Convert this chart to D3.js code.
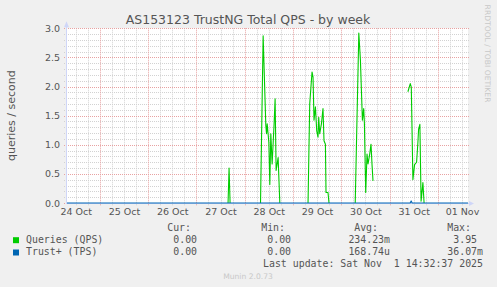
<!DOCTYPE html>
<html>
<head>
<meta charset="utf-8">
<script src="https://cdn.jsdelivr.net/npm/d3@7"></script>
<style>
  html, body { margin: 0; padding: 0; background: #f0f0f0; }
  #chart { width: 497px; height: 287px; }
  svg { display: block; }
  text { white-space: pre; }
  .title  { font: 12.5px "DejaVu Sans"; fill: #555; }
  .unit   { font: 11px "DejaVu Sans"; fill: #555; }
  .tick   { font: 9.5px "DejaVu Sans"; fill: #555; }
  .legend { font: 9.9px "DejaVu Sans Mono"; fill: #555; }
  .mark   { font: 7.6px "DejaVu Sans"; fill: #c8c8c8; }
</style>
</head>
<body>
<div id="chart"></div>
<script>
/*
** Data
*/
var periodStart = "2025-10-24 07:27"
  , periodEnd   = "2025-11-01 14:45"
;
// null = unknown sample, the line breaks there
var qpsTimes = [
      "2025-10-27 15:30", "2025-10-27 16:00", "2025-10-27 16:30", "2025-10-27 17:00"
    , "2025-10-28 07:38", "2025-10-28 08:56", "2025-10-28 10:16", "2025-10-28 10:37"
    , "2025-10-28 10:57", "2025-10-28 11:46", "2025-10-28 12:15", "2025-10-28 12:45"
    , "2025-10-28 13:24", "2025-10-28 14:23", "2025-10-28 14:53", "2025-10-28 15:23"
    , "2025-10-28 16:23", "2025-10-28 17:13", "2025-10-28 17:40"
    , "2025-10-29 07:15", "2025-10-29 08:05", "2025-10-29 09:14", "2025-10-29 09:44"
    , "2025-10-29 10:13", "2025-10-29 10:55", "2025-10-29 11:34", "2025-10-29 12:12"
    , "2025-10-29 12:33", "2025-10-29 13:03", "2025-10-29 13:54", "2025-10-29 14:41"
    , "2025-10-29 15:11", "2025-10-29 15:53", "2025-10-29 16:11", "2025-10-29 17:10"
    , "2025-10-29 17:40", "2025-10-29 18:10"
    , "2025-10-30 06:42", "2025-10-30 08:29", "2025-10-30 09:17", "2025-10-30 10:16"
    , "2025-10-30 10:55", "2025-10-30 11:16", "2025-10-30 11:55", "2025-10-30 12:34"
    , "2025-10-30 13:04", "2025-10-30 13:54", "2025-10-30 14:33", "2025-10-30 15:02"
    , "2025-10-30 15:32", "2025-10-30 16:00"
    , "2025-10-31 08:53", "2025-10-31 10:04", "2025-10-31 10:34", "2025-10-31 11:22"
    , "2025-10-31 12:12", "2025-10-31 13:12", "2025-10-31 13:51", "2025-10-31 14:12"
    , "2025-10-31 14:50", "2025-10-31 15:26", "2025-10-31 16:20", "2025-10-31 16:55"
  ]
  , qpsValues = [
      0, 0.60, 0, null
    , 0, 2.87, 1.33, 1.19
    , 1.36, 1.04, 0.32, 1.19
    , 0.67, 1.36, 1.79, 0.56
    , 0.78, 0, null
    , 0, 1.70, 2.25, 2.16
    , 1.42, 1.65, 1.24, 1.13
    , 1.47, 1.19, 1.36, 1.62
    , 1.07, 1.01, 0.18, 0.18
    , 0, null
    , 0, 2.92, 2.45, 1.42
    , 1.62, 1.36, 0.18, 0.84
    , 0.67, 0.84, 1.01, 0.67
    , 0.38, null
    , 1.91, 2.05, 1.99, 0.40
    , 0.66, 0.70, 1.04, 1.27
    , 1.35, 0.03, 0.35, 0
  ]
;
var tpsTimes  = ["2025-10-24 07:27", "2025-10-31 10:00", "2025-10-31 10:30", "2025-10-31 11:00", "2025-11-01 14:45"]
  , tpsValues = [0, 0, 0.036, 0, 0]
;
var yTicks = [0, 0.5, 1.0, 1.5, 2.0, 2.5, 3.0]
  , seriesNames = ["Queries (QPS)", "Trust+ (TPS)"]
  , legendHeaders = ["Cur:", "Min:", "Avg:", "Max:"]
  , curValues = ["0.00", "0.00"]
  , minValues = ["0.00", "0.00"]
  , avgValues = ["234.23m", "168.74u"]
  , maxValues = ["3.95", "36.07m"]
  , titleText = "AS153123 TrustNG Total QPS - by week"
  , unitText = "queries / second"
  , updateText = "Last update: Sat Nov  1 14:32:37 2025"
  , muninText = "Munin 2.0.73"
  , rrdText = "RRDTOOL / TOBI OETIKER"
;

function WeekGraph() {
  /*
  ** Private Variables
  */
  var container, svg
    , width = 497
    , height = 287
    , plot = { left: 67, right: 468, top: 28.3, bottom: 203 }
    , scale = {
          x: d3.scaleTime()
        , y: d3.scaleLinear()
      }
    , colors = {
          qps: "#00cc00"
        , tps: "#0066b3"
        , axis: "#cfd6f8"
        , grid: "#d2d2d2"
        , mgrid: "#e8a2a2"
      }
    , columns = [203, 297, 390, 483] // right edge of each legend column
    , parse = d3.timeParse("%Y-%m-%d %H:%M")
    , series
  ;

  /*
  ** Main Function Object
  */
  function my() {
      series = [
          { name: seriesNames[0], color: colors.qps
          , points: qpsTimes.map(function(t, i) { return { t: parse(t), v: qpsValues[i] }; }) }
        , { name: seriesNames[1], color: colors.tps
          , points: tpsTimes.map(function(t, i) { return { t: parse(t), v: tpsValues[i] }; }) }
      ];
      scale.x
          .domain([parse(periodStart), parse(periodEnd)])
          .range([plot.left, plot.right])
      ;
      scale.y
          .domain([0, 3])
          .range([plot.bottom, plot.top])
      ;
      svg = container.append("svg")
          .attr("width", width)
          .attr("height", height)
      ;
      svg.append("rect")
          .attr("x", plot.left)
          .attr("y", plot.top)
          .attr("width", plot.right - plot.left)
          .attr("height", plot.bottom - plot.top)
          .attr("fill", "#fff")
      ;
      grid();
      axes();
      lines();
      texts();
      legend();
  } // my() - Main function object

  /*
  ** Helper Functions
  */
  function crisp(v) { return Math.round(v) + 0.5; }

  function grid() {
      var g = svg.append("g").attr("class", "grid")
        , domain = scale.x.domain()
        , minorX = d3.timeHour.every(6).range(domain[0], domain[1])
              .filter(function(d) { return d.getHours() !== 0; })
        , majorX = d3.timeDay.range(domain[0], domain[1])
        , minorY = d3.range(1, 31)
              .filter(function(d) { return d % 5 !== 0; })
              .map(function(d) { return d / 10; })
      ;
      g.selectAll(".hminor")
          .data(minorY)
        .enter().append("line")
          .attr("x1", plot.left - 3).attr("x2", plot.right + 1)
          .attr("y1", function(d) { return crisp(scale.y(d)); })
          .attr("y2", function(d) { return crisp(scale.y(d)); })
          .attr("stroke", colors.grid)
          .attr("stroke-dasharray", "1,1")
      ;
      g.selectAll(".vminor")
          .data(minorX)
        .enter().append("line")
          .attr("x1", function(d) { return Math.floor(scale.x(d)) + 0.5; })
          .attr("x2", function(d) { return Math.floor(scale.x(d)) + 0.5; })
          .attr("y1", plot.top).attr("y2", plot.bottom + 3)
          .attr("stroke", colors.grid)
          .attr("stroke-dasharray", "1,1")
      ;
      g.selectAll(".hmajor")
          .data(yTicks)
        .enter().append("line")
          .attr("x1", plot.left - 3).attr("x2", plot.right + 1)
          .attr("y1", function(d) { return crisp(scale.y(d)); })
          .attr("y2", function(d) { return crisp(scale.y(d)); })
          .attr("stroke", colors.mgrid)
          .attr("stroke-dasharray", "1,1")
      ;
      g.selectAll(".vmajor")
          .data(majorX)
        .enter().append("line")
          .attr("x1", function(d) { return Math.floor(scale.x(d)) + 0.5; })
          .attr("x2", function(d) { return Math.floor(scale.x(d)) + 0.5; })
          .attr("y1", plot.top).attr("y2", plot.bottom + 3)
          .attr("stroke", colors.mgrid)
          .attr("stroke-dasharray", "1,1")
      ;
  } // grid()

  function axes() {
      var g = svg.append("g").attr("class", "axes")
        , domain = scale.x.domain()
        , noons = d3.timeDay.range(d3.timeDay.floor(domain[0]), domain[1])
              .map(function(d) { return d3.timeHour.offset(d, 12); })
              .filter(function(d) { return d <= domain[1]; })
      ;
      g.append("line")
          .attr("x1", plot.left - 0.5).attr("x2", plot.left - 0.5)
          .attr("y1", plot.bottom + 1).attr("y2", plot.top - 4)
          .attr("stroke", colors.axis)
      ;
      g.append("line")
          .attr("x1", plot.left - 1).attr("x2", plot.right + 2)
          .attr("y1", plot.bottom + 0.5).attr("y2", plot.bottom + 0.5)
          .attr("stroke", colors.axis)
      ;
      g.append("path")
          .attr("d", "M" + (plot.left - 3) + "," + (plot.top - 1) + "L" + (plot.left + 2) + "," + (plot.top - 1)
              + "L" + (plot.left - 0.5) + "," + (plot.top - 7) + "Z")
          .attr("fill", colors.axis)
      ;
      g.append("path")
          .attr("d", "M" + (plot.right + 1) + "," + (plot.bottom - 2) + "L" + (plot.right + 1) + "," + (plot.bottom + 3)
              + "L" + (plot.right + 6) + "," + (plot.bottom + 0.5) + "Z")
          .attr("fill", colors.axis)
      ;
      g.selectAll(".ylabel")
          .data(yTicks)
        .enter().append("text")
          .attr("class", "tick")
          .attr("x", plot.left - 7)
          .attr("y", function(d) { return scale.y(d) + 3.5; })
          .attr("text-anchor", "end")
          .text(d3.format(".1f"))
      ;
      g.selectAll(".xlabel")
          .data(noons)
        .enter().append("text")
          .attr("class", "tick")
          .attr("x", function(d) { return scale.x(d); })
          .attr("y", plot.bottom + 12)
          .attr("text-anchor", "middle")
          .text(d3.timeFormat("%d %b"))
      ;
  } // axes()

  function lines() {
      var line = d3.line()
          .defined(function(d) { return d.v !== null; })
          .x(function(d) { return scale.x(d.t); })
          .y(function(d) { return scale.y(d.v); })
      ;
      svg.append("g")
          .attr("class", "series")
        .selectAll("path")
          .data(series)
        .enter().append("path")
          .attr("d", function(d) { return line(d.points); })
          .attr("fill", "none")
          .attr("stroke", function(d) { return d.color; })
          .attr("stroke-width", 1.1)
          .attr("stroke-linejoin", "round")
      ;
  } // lines()

  function texts() {
      svg.append("text")
          .attr("class", "title")
          .attr("x", 248)
          .attr("y", 24)
          .attr("text-anchor", "middle")
          .text(titleText)
      ;
      svg.append("text")
          .attr("class", "unit")
          .attr("transform", "translate(14.5," + ((plot.top + plot.bottom) / 2) + ") rotate(-90)")
          .attr("text-anchor", "middle")
          .text(unitText)
      ;
      svg.append("text")
          .attr("class", "mark")
          .attr("transform", "translate(485,53.5) rotate(90)")
          .attr("text-anchor", "middle")
          .text(rrdText)
      ;
      svg.append("text")
          .attr("class", "mark")
          .attr("x", 248)
          .attr("y", 279)
          .attr("text-anchor", "middle")
          .text(muninText)
      ;
  } // texts()

  function legend() {
      var g = svg.append("g").attr("class", "legend-g")
        , rows = [0, 1].map(function(i) {
              return [curValues[i], minValues[i], avgValues[i], maxValues[i]];
            })
        , unitPad = function(s) { return /[0-9]$/.test(s) ? s + " " : s; }
      ;
      g.selectAll(".head")
          .data(legendHeaders)
        .enter().append("text")
          .attr("class", "legend")
          .attr("x", function(d, i) { return columns[i] - 12; })
          .attr("y", 231.3)
          .attr("text-anchor", "end")
          .text(function(d) { return d; })
      ;
      var row = g.selectAll(".row")
          .data(series)
        .enter().append("g")
          .attr("transform", function(d, i) { return "translate(0," + (243 + i * 12.3) + ")"; })
      ;
      row.append("rect")
          .attr("x", 13).attr("y", -5.8)
          .attr("width", 6).attr("height", 6)
          .attr("fill", function(d) { return d.color; })
      ;
      row.append("text")
          .attr("class", "legend")
          .attr("x", 26)
          .text(function(d) { return d.name; })
      ;
      row.each(function(d, i) {
          d3.select(this).selectAll(".val")
              .data(rows[i])
            .enter().append("text")
              .attr("class", "legend")
              .attr("x", function(v, j) { return columns[j]; })
              .attr("text-anchor", "end")
              .text(unitPad)
          ;
        })
      ;
      g.append("text")
          .attr("class", "legend")
          .attr("x", columns[3])
          .attr("y", 267)
          .attr("text-anchor", "end")
          .text(updateText)
      ;
  } // legend()

  /*
  ** API (Getter/Setter) Functions
  */
  my.container = function(value) {
      if(!arguments.length) return container;
      container = value;
      return my;
    } // my.container()
  ;
  // This is always the last thing returned
  return my;
} // WeekGraph()

var graph = WeekGraph().container(d3.select("#chart"));
graph();
</script>
</body>
</html>
